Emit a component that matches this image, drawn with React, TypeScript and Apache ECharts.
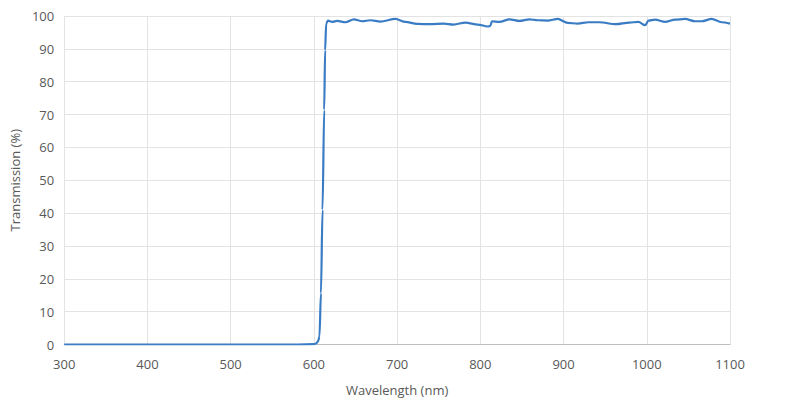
import React, { useEffect, useRef } from "react";
import * as echarts from "echarts";

const wavelengths = [
  300, 400, 500, 580, 600, 603, 605, 606.7, 608.5, 610.4, 612.4, 613.5, 614.8, 617, 622,
  628, 638, 648, 658, 668, 680, 698, 710, 724, 740, 756, 768, 782, 797, 809, 812, 814,
  823, 835, 847, 859, 869, 881, 893, 905, 917, 930, 943, 963, 979, 990, 998, 1002, 1010,
  1022, 1034, 1046, 1058, 1066, 1078, 1090, 1100,
];
const transmission = [
  0, 0, 0, 0, 0.1, 0.3, 1, 2.4, 15.6, 41, 71.4, 89.6, 97.8, 98.6, 98.2,
  98.5, 98.1, 99.0, 98.4, 98.7, 98.3, 99.1, 98.2, 97.6, 97.5, 97.7, 97.4, 98.0, 97.4, 96.8, 97.0, 98.4,
  98.2, 99.0, 98.5, 99.0, 98.7, 98.6, 99.1, 97.9, 97.7, 98.1, 98.1, 97.5, 98.0, 98.2, 97.2, 98.6, 98.9,
  98.2, 98.9, 99.1, 98.4, 98.4, 99.1, 98.1, 97.7,
];

const xTitle = "Wavelength (nm)";
const yTitle = "Transmission (%)";

export default function App() {
  const ref = useRef<HTMLDivElement>(null);
  useEffect(() => {
    if (!ref.current) return;
    const chart = echarts.init(ref.current, undefined, { renderer: "svg" });
    const font = "'Open Sans', 'Segoe UI', sans-serif";
    chart.setOption({
      animation: false,
      grid: { left: 60, right: 59, top: 16, bottom: 68.5 },
      xAxis: {
        type: "value",
        min: 300,
        max: 1100,
        interval: 100,
        name: xTitle,
        nameLocation: "middle",
        nameGap: 39,
        nameTextStyle: { color: "#595959", fontSize: 13, fontFamily: font },
        axisLine: { show: true, lineStyle: { color: "#bfbfbf", width: 1 } },
        axisTick: { show: false },
        axisLabel: {
          color: "#595959",
          fontSize: 13,
          fontFamily: font,
          margin: 13,
          formatter: (v: number) => String(v),
        },
        splitLine: { show: true, lineStyle: { color: "#e3e3e3", width: 1 } },
      },
      yAxis: {
        type: "value",
        min: 0,
        max: 100,
        interval: 10,
        name: yTitle,
        nameLocation: "middle",
        nameGap: 40,
        nameTextStyle: { color: "#595959", fontSize: 13, fontFamily: font },
        axisLine: { show: false },
        axisTick: { show: false },
        axisLabel: { color: "#595959", fontSize: 13, fontFamily: font, margin: 10 },
        splitLine: { show: true, lineStyle: { color: "#e3e3e3", width: 1 } },
      },
      series: [
        {
          type: "line",
          data: wavelengths.map((w, i) => [w, transmission[i]]),
          showSymbol: false,
          smooth: 0.3,
          smoothMonotone: "x",
          lineStyle: { color: "#3a7cc4", width: 2.2 },
          itemStyle: { color: "#3a7cc4" },
        },
      ],
    });
    return () => chart.dispose();
  }, []);
  return (
    <div
      ref={ref}
      style={{ position: "fixed", left: 0, top: 0, width: 789, height: 413, background: "#fff" }}
    />
  );
}
